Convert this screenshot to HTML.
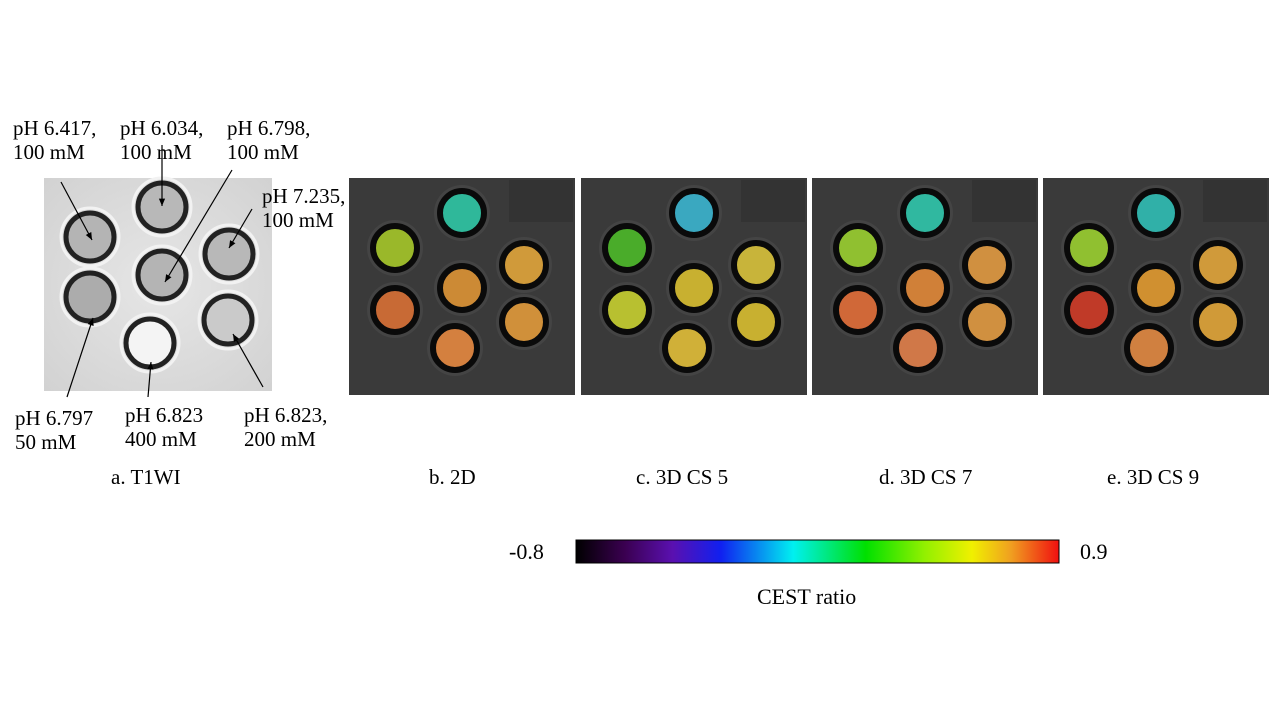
<!DOCTYPE html>
<html><head><meta charset="utf-8"><style>
body{margin:0;background:#fff;width:1280px;height:720px;overflow:hidden;font-family:"Liberation Serif",serif;}
.t{position:absolute;font-size:21px;line-height:24px;color:#000;white-space:nowrap}
</style></head><body>
<svg id="s" width="1280" height="720" style="position:absolute;left:0;top:0">
<defs>
<linearGradient id="cb" x1="0" x2="1">
<stop offset="0" stop-color="#000"/><stop offset="0.1" stop-color="#3a0050"/><stop offset="0.2" stop-color="#5a10b0"/>
<stop offset="0.3" stop-color="#1020f0"/><stop offset="0.45" stop-color="#00f0f0"/><stop offset="0.6" stop-color="#00e000"/>
<stop offset="0.72" stop-color="#90f000"/><stop offset="0.82" stop-color="#f0f000"/><stop offset="0.9" stop-color="#f0a020"/><stop offset="1" stop-color="#f01010"/>
</linearGradient>
<radialGradient id="bg1" cx="0.5" cy="0.5" r="0.7"><stop offset="0" stop-color="#e6e6e6"/><stop offset="1" stop-color="#d2d2d2"/></radialGradient>
</defs>
<rect x="44" y="178" width="228" height="213" fill="url(#bg1)"/>
<rect x="576" y="540" width="483" height="23" fill="url(#cb)" stroke="#000" stroke-width="1"/>
</svg>
<div class="t" style="left:13px;top:116px">pH 6.417,<br>100 mM</div>
<div class="t" style="left:120px;top:116px">pH 6.034,<br>100 mM</div>
<div class="t" style="left:227px;top:116px">pH 6.798,<br>100 mM</div>
<div class="t" style="left:262px;top:184px">pH 7.235,<br>100 mM</div>
<div class="t" style="left:15px;top:406px">pH 6.797<br>50 mM</div>
<div class="t" style="left:125px;top:403px">pH 6.823<br>400 mM</div>
<div class="t" style="left:244px;top:403px">pH 6.823,<br>200 mM</div>
<div class="t" style="left:111px;top:465px">a. T1WI</div>
<div class="t" style="left:429px;top:465px">b. 2D</div>
<div class="t" style="left:636px;top:465px">c. 3D CS 5</div>
<div class="t" style="left:879px;top:465px">d. 3D CS 7</div>
<div class="t" style="left:1107px;top:465px">e. 3D CS 9</div>
<div class="t" style="left:509px;top:540px;font-size:22px">-0.8</div>
<div class="t" style="left:1080px;top:540px;font-size:22px">0.9</div>
<div class="t" style="left:757px;top:585px;font-size:22px">CEST ratio</div>
<script>
var s=document.getElementById('s'),ns='http://www.w3.org/2000/svg';
function el(t,a){var e=document.createElementNS(ns,t);for(var k in a)e.setAttribute(k,a[k]);s.appendChild(e);return e;}
var t1=[[162,207,'#b8b8b8'],[90,237,'#b4b4b4'],[229,254,'#b8b8b8'],[162,275,'#b4b4b4'],[90,297,'#acacac'],[228,320,'#cacaca'],[150,343,'#f4f4f4']];
t1.forEach(function(c){el('circle',{cx:c[0],cy:c[1],r:29,fill:'none',stroke:'#f2f2f2','stroke-width':3});
el('circle',{cx:c[0],cy:c[1],r:24,fill:c[2],stroke:'#222','stroke-width':5});});
var px=[349,581,812,1043];
var rel=[[113,35],[46,70],[175,87],[113,110],[46,132],[175,144],[106,170]];
var cols=[
['#2fb89a','#9ab82a','#d09a3a','#cc8a35','#c86a35','#d0903a','#d4803f'],
['#3aa8c0','#4aac2a','#c8b43a','#c8b030','#b8c030','#c8b030','#d0b038'],
['#30b8a0','#90c030','#d09040','#d08038','#d06838','#d09040','#d07848'],
['#30b0a8','#90c030','#d09a3a','#d09030','#c03a28','#d09a38','#d08040']];
px.forEach(function(x,i){
el('rect',{x:x,y:178,width:226,height:217,fill:'#3a3a3a'});
el('rect',{x:x+160,y:180,width:64,height:42,fill:'#333'});
rel.forEach(function(r,j){
el('circle',{cx:x+r[0],cy:178+r[1],r:28,fill:'#444'});
el('circle',{cx:x+r[0],cy:178+r[1],r:22,fill:cols[i][j],stroke:'#0a0a0a','stroke-width':6});});
});
function ar(x1,y1,x2,y2){el('line',{x1:x1,y1:y1,x2:x2,y2:y2,stroke:'#000','stroke-width':1.2});
var a=Math.atan2(y2-y1,x2-x1),l=8,w=0.4;
el('polygon',{points:x2+','+y2+' '+(x2-l*Math.cos(a-w))+','+(y2-l*Math.sin(a-w))+' '+(x2-l*Math.cos(a+w))+','+(y2-l*Math.sin(a+w)),fill:'#000'});}
ar(61,182,92,240);ar(162,145,162,206);ar(232,170,165,282);ar(252,209,229,248);
ar(67,397,93,318);ar(148,397,151,362);ar(263,387,233,334);
</script>
</body></html>
